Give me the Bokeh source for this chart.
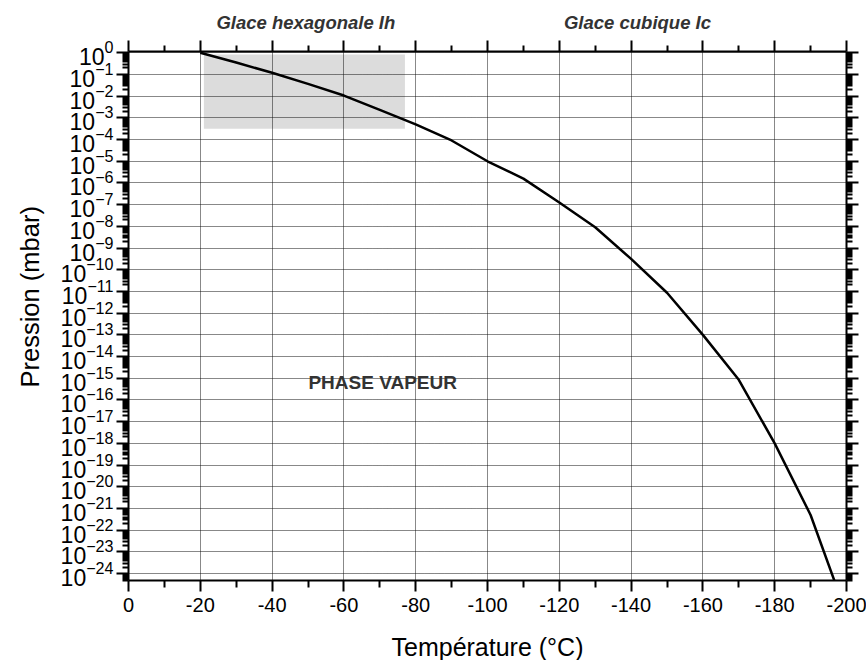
from bokeh.plotting import figure
from bokeh.models import (FixedTicker, LogAxis, LinearAxis, LogTickFormatter,
                          CustomJSTickFormatter, Label, Range1d, Title)
from bokeh.embed import file_html
from bokeh.resources import INLINE

# Sublimation curve of water ice: temperature (°C) vs log10 of pressure (mbar)
temperature = [-20, -30, -40, -50, -60, -70, -80, -90, -100, -110,
               -120, -130, -140, -150, -160, -170, -180, -190, -197]
log_pressure = [0.0, -0.45, -0.92, -1.43, -1.97, -2.63, -3.30, -4.04, -5.0, -5.8,
                -6.9, -8.04, -9.5, -11.06, -13.0, -15.07, -18.0, -21.3, -24.5]
pressure = [10.0 ** v for v in log_pressure]

# Hexagonal-ice working zone (shaded box)
zone_temp = [-21, -77]
zone_log_pressure = [-3.5, -0.08]

# Ice phases named above the plot
phase_names = ["Glace hexagonale Ih", "Glace cubique  Ic"]
phase_temp = [-49.4, -142.5]

x_major = list(range(0, -201, -20))
x_minor = list(range(-10, -200, -20))
x_labels = {t: str(t) for t in x_major}
y_exponents = list(range(0, -25, -1))
y_major = [10.0 ** e for e in y_exponents]
y_minor = [k * 10.0 ** (e - 1) for e in y_exponents for k in range(2, 10)]

FONT = "Liberation Sans"

p = figure(
    x_range=Range1d(0, -200),
    y_range=Range1d(10 ** -24.32, 10 ** 0.06),
    y_axis_type="log",
    frame_width=718, frame_height=529,
    min_border_left=127, min_border_right=21,
    min_border_top=51, min_border_bottom=80,
    output_backend="svg", toolbar_location=None,
)
p.outline_line_color = None
p.background_fill_color = "white"
p.border_fill_color = "white"

x_ticker = FixedTicker(ticks=x_major, minor_ticks=x_minor)
y_ticker = FixedTicker(ticks=y_major, minor_ticks=y_minor)

# shaded zone
p.quad(left=[zone_temp[0]], right=[zone_temp[1]],
       bottom=[10 ** zone_log_pressure[0]], top=[10 ** zone_log_pressure[1]],
       fill_color="#dcdcdc", line_color=None, level="underlay")

# curve
p.line(temperature, pressure, line_color="black", line_width=2.5)

# grid
for g, t in ((p.xgrid, x_ticker), (p.ygrid, y_ticker)):
    g.ticker = t
    g.grid_line_color = "#111111"
    g.grid_line_dash = "1 1"
    g.grid_line_width = 1
    g.level = "underlay"


def style_axis(ax, major_out, minor_out):
    ax.axis_line_width = 2
    ax.axis_line_color = "black"
    ax.major_tick_line_width = 2
    ax.minor_tick_line_width = 2
    ax.major_tick_in = 0
    ax.minor_tick_in = 0
    ax.major_tick_out = major_out
    ax.minor_tick_out = minor_out


xa = p.xaxis[0]
xa.ticker = x_ticker
xa.major_label_overrides = x_labels
style_axis(xa, 11, 7)
xa.major_label_text_font = FONT
xa.major_label_text_font_size = "20px"
xa.major_label_text_color = "black"
xa.major_label_standoff = 6
xa.axis_label = "Température (°C)"
xa.axis_label_text_font = FONT
xa.axis_label_text_font_size = "25px"
xa.axis_label_text_font_style = "normal"
xa.axis_label_text_color = "black"
xa.axis_label_standoff = 18

ya = p.yaxis[0]
ya.ticker = y_ticker
ya.formatter = LogTickFormatter(min_exponent=0)
style_axis(ya, 12, 6)
ya.major_label_text_font = FONT
ya.major_label_text_font_size = "23px"
ya.major_label_text_color = "black"
ya.major_label_standoff = 3

# y title, starting part-way up the frame
p.add_layout(Title(text="Pression (mbar)", align="left", offset=193,
                   standoff=27, text_font=FONT, text_font_size="25.5px",
                   text_font_style="normal", text_color="black"), "left")

blank = CustomJSTickFormatter(code="return ''")

top = LinearAxis(ticker=x_ticker, formatter=blank, major_label_standoff=0)
style_axis(top, 11, 6)
p.add_layout(top, "above")

right = LogAxis(ticker=y_ticker, formatter=blank, major_label_standoff=0)
style_axis(right, 12, 6)
p.add_layout(right, "right")

# phase names, set as labels of a bare axis above the tick axis
names = LinearAxis(
    ticker=FixedTicker(ticks=phase_temp),
    major_label_overrides=dict(zip(phase_temp, phase_names)),
    axis_line_color=None, major_tick_line_color=None, minor_tick_line_color=None,
    major_tick_out=0, minor_tick_out=0, major_tick_in=0, minor_tick_in=0,
    major_label_standoff=8,
    major_label_text_font=FONT, major_label_text_font_size="18.5px",
    major_label_text_font_style="bold italic", major_label_text_color="#333333",
)
p.add_layout(names, "above")

p.add_layout(Label(x=-70.8, y=10 ** -15.2, text="PHASE VAPEUR",
                   text_align="center", text_baseline="middle",
                   text_font=FONT, text_font_size="19px",
                   text_font_style="bold", text_color="#333333"))

open("out.html", "w").write(file_html(p, INLINE))
